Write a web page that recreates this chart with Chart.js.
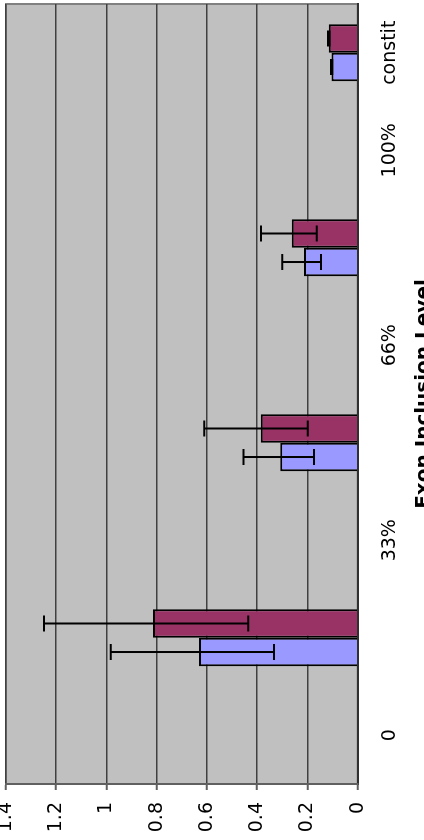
<!DOCTYPE html>
<html><head><meta charset="utf-8">
<script src="https://cdn.jsdelivr.net/npm/chart.js@4.4.1/dist/chart.umd.min.js"></script>
<style>
html,body{margin:0;padding:0;background:#fff;width:424px;height:840px;overflow:hidden;}
#wrap{position:absolute;left:0;top:0;width:840px;height:440px;transform-origin:0 0;transform:translateY(840px) rotate(-90deg);}
canvas{display:block;}
</style></head><body>
<div id="wrap"><canvas id="c" width="840" height="440"></canvas></div>
<script>
const categories = ['0', '', '33%', '', '66%', '', '100%', 'constit'];
const blueValues = [null, 0.632, null, 0.308, null, 0.214, null, 0.104];
const redValues  = [null, 0.815, null, 0.386, null, 0.263, null, 0.115];
const blueErrLow  = [null, 0.333, null, 0.174, null, 0.146, null, 0.101];
const blueErrHigh = [null, 0.983, null, 0.455, null, 0.300, null, 0.106];
const redErrLow   = [null, 0.436, null, 0.199, null, 0.163, null, 0.112];
const redErrHigh  = [null, 1.249, null, 0.611, null, 0.385, null, 0.118];
const valueTickLabels = ['0', '0.2', '0.4', '0.6', '0.8', '1', '1.2', '1.4'];
const axisTitle = 'Exon Inclusion Level';

const plotBg = {
  id: 'plotBg',
  beforeDraw(chart) {
    const {ctx, chartArea: a} = chart;
    ctx.save();
    ctx.fillStyle = '#C0C0C0';
    ctx.fillRect(a.left, a.top, a.right - a.left, a.bottom - a.top);
    ctx.strokeStyle = '#808080';
    ctx.lineWidth = 2;
    ctx.strokeRect(a.left, a.top, a.right - a.left, a.bottom - a.top);
    ctx.restore();
  }
};

const errorBars = {
  id: 'errorBars',
  afterDatasetsDraw(chart) {
    const ctx = chart.ctx, ys = chart.scales.y;
    const errs = [[blueErrLow, blueErrHigh], [redErrLow, redErrHigh]];
    ctx.save();
    ctx.strokeStyle = '#000';
    ctx.lineWidth = 2;
    errs.forEach((e, i) => {
      const meta = chart.getDatasetMeta(i);
      meta.data.forEach((bar, j) => {
        if (e[0][j] == null) return;
        const x = bar.x;
        const y1 = ys.getPixelForValue(e[0][j]);
        const y2 = ys.getPixelForValue(e[1][j]);
        ctx.beginPath();
        ctx.moveTo(x, y1); ctx.lineTo(x, y2);
        ctx.moveTo(x - 8, y1); ctx.lineTo(x + 8, y1);
        ctx.moveTo(x - 8, y2); ctx.lineTo(x + 8, y2);
        ctx.stroke();
      });
    });
    ctx.restore();
  }
};

new Chart(document.getElementById('c'), {
  type: 'bar',
  data: {
    labels: categories,
    datasets: [
      {data: blueValues, backgroundColor: '#9999FF', borderColor: '#000', borderWidth: 2},
      {data: redValues, backgroundColor: '#993366', borderColor: '#000', borderWidth: 2}
    ]
  },
  options: {
    responsive: false,
    animation: false,
    layout: {padding: {left: 0, right: 4, top: 6, bottom: 0}},
    plugins: {legend: {display: false}, tooltip: {enabled: false}},
    datasets: {bar: {categoryPercentage: 0.585, barPercentage: 1}},
    scales: {
      x: {
        type: 'category',
        grid: {display: false},
        border: {display: true, color: '#303030', width: 2},
        ticks: {color: '#000', font: {family: 'DejaVu Sans', size: 19}, padding: 13, maxRotation: 0, minRotation: 0, autoSkip: false},
        title: {display: true, text: axisTitle, color: '#000', font: {family: 'DejaVu Sans', size: 20, weight: 'bold'}, padding: {top: 0, bottom: 4}},
        afterFit(s) { s.height = 82.3; s.paddingLeft = 0; s.paddingRight = 0; }
      },
      y: {
        min: 0, max: 1.4,
        ticks: {stepSize: 0.2, color: '#000', font: {family: 'DejaVu Sans', size: 19}, padding: 12,
                callback: (v, i) => valueTickLabels[i]},
        grid: {color: '#404040', lineWidth: 1.5, tickLength: 6, tickColor: '#606060', tickWidth: 2, drawTicks: true},
        border: {color: '#606060', width: 2},
        afterFit(s) { s.width = 56; s.paddingTop = 0; s.paddingBottom = 0; }
      }
    }
  },
  plugins: [plotBg, errorBars]
});
</script>
</body></html>
